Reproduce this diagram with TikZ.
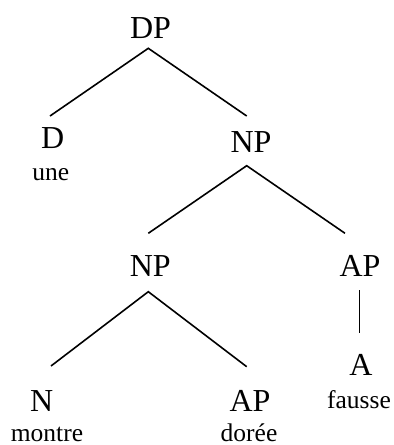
\documentclass[tikz,border=0pt]{standalone}
\usepackage{fontspec}
\setmainfont{Liberation Serif}
\begin{document}
\begin{tikzpicture}[x=1pt,y=-1pt,
  cat/.style={inner sep=0pt,anchor=base,font=\fontsize{32}{38}\selectfont},
  word/.style={inner sep=0pt,anchor=base,font=\fontsize{25.5}{30}\selectfont},
  branch/.style={line width=1.6pt,line cap=butt}]
\useasboundingbox (0,0) rectangle (394,445);
\node[cat] (DP) at (150.5,38) {DP};
\node[cat] (D) at (52.8,148.3) {D};
\node[word] (une) at (50.7,180) {une};
\node[cat] (NPa) at (251,152.7) {NP};
\node[cat] (NPb) at (150.3,276.7) {NP};
\node[cat] (APa) at (360,276.7) {AP};
\node[cat] (A) at (361,375) {A};
\node[word] (fausse) at (359,408) {fausse};
\node[cat] (N) at (41.7,411.7) {N};
\node[word] (montre) at (47,441) {montre};
\node[cat] (APb) at (250,411.7) {AP};
\node[word] (doree) at (249,441) {dorée};
\draw[branch] ([shift={(-2.8,-32.3)}]D.base) -- ([shift={(-2.2,10.3)}]DP.base) -- ([shift={(-4.3,-36.7)}]NPa.base);
\draw[branch] ([shift={(-2,-43.4)}]NPb.base) -- ([shift={(-4.3,13)}]NPa.base) -- ([shift={(-15,-43.4)}]APa.base);
\draw[branch] ([shift={(9.3,-45.7)}]N.base) -- ([shift={(-2,15)}]NPb.base) -- ([shift={(-3.3,-45)}]APb.base);
\draw[branch] ([shift={(-0.7,13.3)}]APa.base) -- ([shift={(-1.7,-41.7)}]A.base);
\end{tikzpicture}
\end{document}
